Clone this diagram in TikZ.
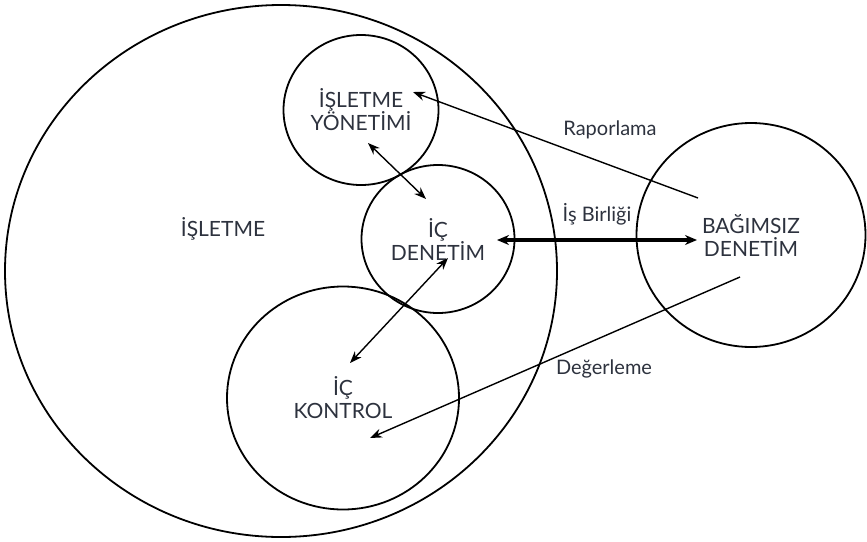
\documentclass[tikz,border=0pt]{standalone}
\usepackage{fontspec}
\setmainfont{Lato}
\usetikzlibrary{
    positioning,     % Göreli yerleştirme için
    arrows.meta,     % Modern ok uçları (ör: Stealth)
    shapes.geometric % Elips biçimli düğümler
}
\definecolor{yazirengi}{RGB}{45,50,62}

\begin{document}
\begin{tikzpicture}[x=0.5pt, y=-0.5pt] % 1 birim = görüntüdeki 1 piksel

    % --- Stil Tanımları ---
    \tikzset{
        % Daireler (hafif yatık elips)
        daire/.style={
            draw,
            ellipse,
            line width=0.9pt,
            inner sep=0pt,
            align=center,
            text=yazirengi,
            font=\fontsize{10.5}{11.5}\selectfont
        },
        % İki uçlu ince oklar
        ince_ok/.style={
            {Stealth[length=6pt,width=4.5pt]}-{Stealth[length=6pt,width=4.5pt]},
            line width=0.7pt
        },
        % Tek uçlu ince oklar
        tek_ok/.style={
            -{Stealth[length=6pt,width=4.5pt]},
            line width=0.7pt
        },
        % Kalın ok (iş birliği)
        kalin_ok/.style={
            {Stealth[length=6pt,width=5pt]}-{Stealth[length=6pt,width=5pt]},
            line width=1.7pt
        },
        % Okların yanındaki yazılar
        etiket/.style={
            text=yazirengi,
            font=\fontsize{10}{12}\selectfont
        }
    }

    \useasboundingbox (0,0) rectangle (867,541);

    % --- Daireler ---
    \node[daire, minimum width=276pt, minimum height=266pt] (isletme) at (281,271) {};
    \node[daire, minimum width=77.5pt, minimum height=75pt] (yonetim) at (361,110) {İŞLETME\\YÖNETİMİ};
    \node[daire, minimum width=76.5pt, minimum height=74pt] (icdenetim) at (438,239) {İÇ\\DENETİM};
    \node[daire, minimum width=116pt, minimum height=111.5pt] (kontrol) at (343,398) {İÇ\\KONTROL};
    \node[daire, minimum width=114.5pt, minimum height=112pt] (bagimsiz) at (751,235) {BAĞIMSIZ\\DENETİM};

    % İşletme yazısı
    \node[text=yazirengi, font=\fontsize{10.5}{11.5}\selectfont] (isletme_yazi) at (223,229) {İŞLETME};

    % --- Okların uç noktaları ---
    \coordinate (rapor_bas) at (698,198);
    \coordinate (rapor_uc) at (413,92);
    \coordinate (yd_ust) at (368,143);
    \coordinate (yd_alt) at (426,199);
    \coordinate (dk_ust) at (448,258);
    \coordinate (dk_alt) at (350,363);
    \coordinate (isb_sol) at (497,240);
    \coordinate (isb_sag) at (697,240);
    \coordinate (deger_bas) at (740,277);
    \coordinate (deger_uc) at (370,438);

    % --- Oklar ---
    \draw[tek_ok] (rapor_bas) -- (rapor_uc);
    \draw[ince_ok] (yd_ust) -- (yd_alt);
    \draw[ince_ok] (dk_ust) -- (dk_alt);
    \draw[kalin_ok] (isb_sol) -- (isb_sag)
        node[etiket, midway, above=3pt] (isbirligi) {İş Birliği};
    \draw[tek_ok] (deger_bas) -- (deger_uc);

    % --- Etiketler ---
    \node[etiket] (raporlama) at (610,130) {Raporlama};
    \node[etiket] (degerleme) at (604,369) {Değerleme};

\end{tikzpicture}
\end{document}
